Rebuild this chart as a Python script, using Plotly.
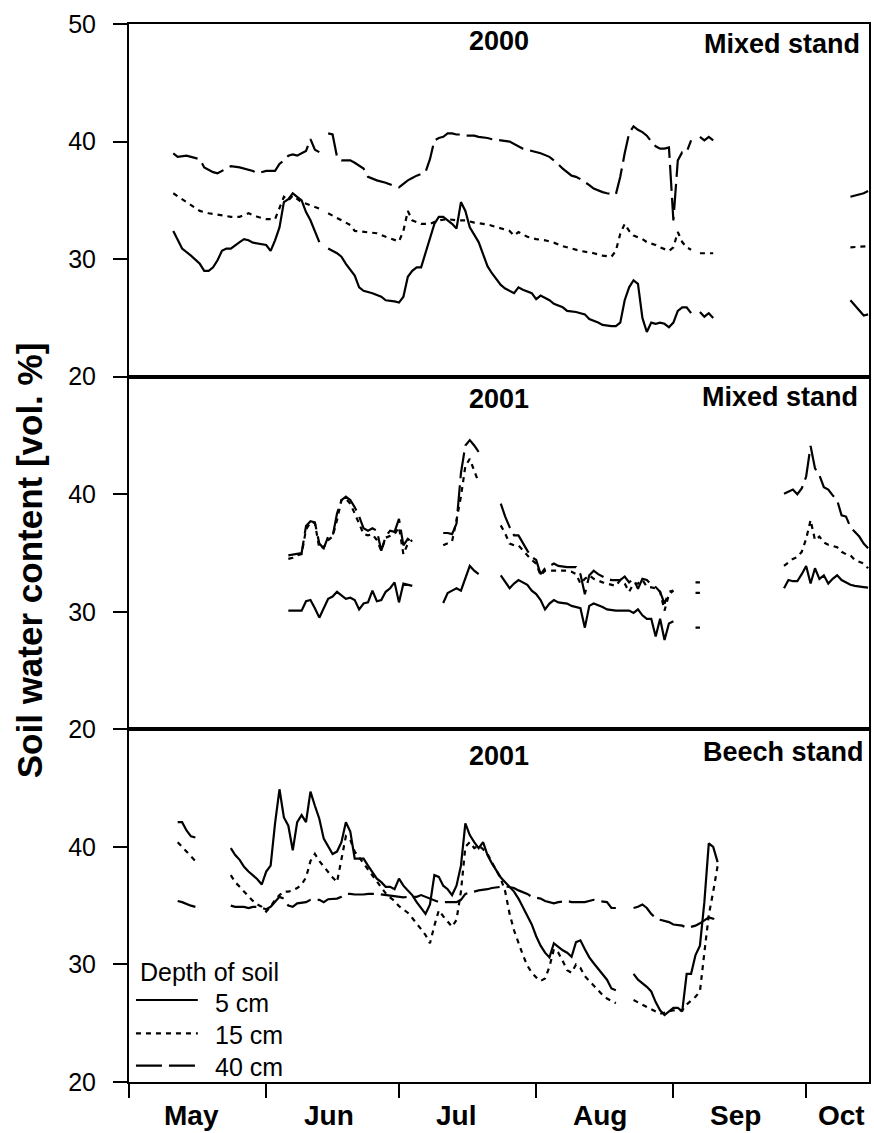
import plotly.graph_objects as go
from plotly.subplots import make_subplots

# x = days counted from 1 May (0 = 1 May); None = gap in the record
# ---------- Panel 1: 2000, mixed stand ----------
mix2000_5cm = [(10,32.4),(11,31.6),(12,30.9),(14,30.3),(16,29.6),(17,29.0),(18,29.0),(19,29.3),(20,29.9),(21,30.7),(22,30.9),(23,30.9),(24,31.2),(25,31.45),(26,31.7),(27,31.6),(28,31.4),(30,31.3),(31,31.2),(32,30.7),(33,31.6),(34,32.7),(35,34.85),(36,35.1),(37,35.6),(39,35.0),(40,34.0),(41,33.3),(42,32.4),(43,31.45),(44,None),(45,30.9),(47,30.5),(48,30.2),(49,29.6),(51,28.6),(52,27.6),(53,27.3),(55,27.1),(57,26.8),(58,26.5),(60,26.4),(61,26.3),(62,26.8),(63,28.5),(64,29.0),(65,29.3),(66,29.3),(67,30.5),(68,31.9),(69,33.0),(70,33.6),(71,33.6),(72,33.3),(73,33.0),(74,32.6),(75,34.85),(76,34.1),(77,32.7),(79,31.45),(80,30.5),(81,29.4),(82,28.8),(84,27.8),(85,27.5),(87,27.1),(88,27.6),(89,27.4),(91,27.1),(92,26.6),(93,26.9),(95,26.5),(96,26.2),(98,25.9),(99,25.6),(101,25.5),(103,25.3),(104,24.9),(106,24.6),(107,24.4),(109,24.3),(110,24.3),(111,24.6),(112,26.5),(113,27.6),(114,28.2),(115,27.9),(116,25.0),(117,23.8),(118,24.6),(119,24.5),(120,24.6),(121,24.5),(122,24.2),(123,24.6),(124,25.6),(125,25.9),(126,25.9),(127,25.4),(128,None),(129,25.5),(130,25.1),(131,25.4),(132,25.0),(133,None),(163,26.5),(165,25.6),(166,25.2),(167,25.3)]
mix2000_15cm = [(10,35.6),(12,35.1),(14,34.6),(16,34.1),(18,33.9),(21,33.7),(23,33.6),(25,33.6),(27,33.9),(29,33.6),(31,33.4),(33,33.4),(34,34.4),(35,35.3),(36,35.0),(37,35.4),(39,34.85),(41,34.6),(43,34.3),(44,None),(45,33.9),(48,33.3),(50,32.9),(51,32.4),(54,32.3),(56,32.2),(58,31.9),(60,31.6),(61,31.5),(62,32.4),(63,34.1),(64,33.3),(66,33.0),(68,33.0),(70,33.3),(72,33.4),(74,33.3),(76,33.3),(78,33.1),(81,32.95),(84,32.6),(86,32.4),(87,32.0),(88,32.3),(90,31.9),(92,31.7),(94,31.6),(96,31.4),(98,31.1),(100,30.9),(102,30.7),(105,30.5),(107,30.3),(109,30.2),(110,30.7),(111,32.15),(112,33.0),(113,32.4),(114,32.0),(116,31.7),(117,31.45),(119,31.2),(120,31.0),(122,30.7),(123,31.0),(124,32.3),(125,31.45),(126,31.0),(127,30.8),(128,None),(129,30.5),(132,30.5),(133,None),(163,31.0),(167,31.1)]
mix2000_40cm = [(10,39.0),(11,38.7),(13,38.8),(14,38.7),(16,38.5),(17,37.8),(19,37.4),(20,37.3),(21,37.5),(22,37.7),(23,37.9),(25,37.8),(26,37.7),(28,37.5),(29,37.3),(31,37.5),(33,37.5),(34,38.1),(35,38.4),(36,38.8),(37,38.9),(38,38.8),(39,39.0),(40,39.2),(41,40.2),(42,39.3),(43,39.1),(44,None),(45,40.7),(46,40.6),(47,38.7),(48,38.4),(50,38.4),(51,38.2),(53,37.7),(54,37.0),(56,36.7),(57,36.6),(58,36.5),(60,36.2),(61,36.1),(62,36.4),(63,36.7),(64,36.9),(65,37.1),(67,37.4),(68,38.5),(69,40.1),(70,40.3),(71,40.4),(72,40.7),(73,40.7),(74,40.6),(75,40.6),(76,40.5),(78,40.5),(79,40.4),(81,40.3),(82,40.2),(84,40.1),(86,40.0),(89,39.4),(91,39.2),(93,39.0),(95,38.7),(96,38.4),(98,37.7),(100,37.1),(101,37.0),(102,36.8),(104,36.3),(105,36.0),(107,35.7),(108,35.6),(110,35.5),(111,37.0),(112,39.0),(113,40.7),(114,41.3),(115,41.0),(116,40.8),(117,40.5),(118,40.0),(119,39.6),(120,39.4),(121,39.4),(122,39.5),(123,33.3),(124,38.4),(125,39.1),(126,39.1),(127,40.1),(128,None),(129,40.4),(130,40.1),(131,40.4),(132,40.1),(133,None),(163,35.3),(165,35.5),(166,35.6),(167,35.8)]

# ---------- Panel 2: 2001, mixed stand ----------
mix2001_5cm = [(36,30.1),(37,30.1),(39,30.1),(40,30.9),(41,31.0),(42,30.3),(43,29.5),(44,30.3),(45,31.1),(46,31.3),(47,31.7),(48,31.4),(49,31.1),(50,31.2),(51,31.0),(52,30.2),(53,30.7),(54,30.8),(55,31.8),(56,30.9),(57,31.0),(58,31.7),(59,32.0),(60,32.5),(61,30.8),(62,32.4),(63,32.3),(64,32.2),(67,None),(71,30.75),(72,31.6),(73,31.8),(74,32.0),(75,31.8),(77,33.9),(78,33.5),(79,33.2),(81,None),(84,33.1),(85,32.6),(86,32.0),(87,32.4),(88,32.7),(90,32.3),(91,31.8),(92,31.5),(93,31.0),(94,30.2),(95,30.7),(96,31.0),(97,30.8),(99,30.7),(100,30.5),(102,30.3),(103,28.65),(104,30.5),(105,30.7),(107,30.4),(108,30.2),(110,30.1),(111,30.1),(113,30.1),(114,29.9),(115,30.2),(116,29.7),(117,29.4),(118,29.4),(119,27.9),(120,29.4),(121,27.6),(122,29.0),(123,29.2),(125,None),(128,28.65),(129,28.65),(140,None),(148,32.0),(149,32.7),(150,32.6),(151,32.6),(152,33.2),(153,33.9),(154,32.4),(155,33.7),(156,32.8),(157,33.1),(158,32.4),(159,32.8),(160,33.1),(161,32.7),(163,32.3),(164,32.2),(166,32.1),(167,32.05)]
mix2001_15cm = [(36,34.5),(37,34.6),(38,34.8),(39,34.9),(40,37.0),(41,37.6),(42,37.55),(43,35.4),(44,35.5),(45,36.1),(46,36.4),(47,37.8),(48,39.5),(49,39.6),(50,39.2),(51,38.4),(52,37.5),(53,36.6),(54,36.5),(55,36.6),(56,36.1),(57,35.2),(58,36.3),(60,36.6),(61,37.2),(62,34.9),(63,35.8),(64,36.1),(67,None),(71,35.65),(72,35.8),(73,36.0),(74,37.8),(75,39.8),(76,42.4),(77,43.0),(78,42.0),(79,41.0),(81,None),(84,37.35),(85,36.65),(86,35.8),(87,35.65),(88,35.65),(89,35.2),(90,34.8),(91,34.4),(92,34.1),(93,33.1),(94,33.5),(96,33.5),(97,33.45),(99,33.5),(100,33.4),(101,33.2),(102,32.4),(103,32.8),(104,33.1),(105,32.8),(107,32.5),(108,32.4),(110,32.2),(111,32.7),(112,32.4),(113,31.7),(114,32.4),(115,32.4),(116,32.7),(117,32.15),(119,32.0),(120,31.7),(121,30.1),(122,31.5),(123,31.8),(125,None),(128,31.6),(129,31.6),(140,None),(148,33.9),(149,34.2),(150,34.5),(151,34.65),(152,35.1),(153,36.2),(154,37.8),(155,36.1),(156,36.4),(157,35.9),(158,35.7),(159,35.6),(160,35.5),(161,35.1),(162,34.9),(163,34.8),(164,34.4),(166,34.1),(167,33.7)]
mix2001_40cm = [(36,34.8),(37,34.85),(38,34.9),(39,35.0),(40,37.3),(41,37.7),(42,37.6),(43,35.8),(44,35.4),(45,36.4),(46,36.4),(47,38.35),(48,39.5),(49,39.8),(50,39.5),(51,38.9),(52,38.1),(53,37.1),(54,36.9),(55,37.1),(56,36.9),(57,35.2),(58,36.4),(59,36.9),(60,36.8),(61,37.9),(62,35.65),(63,36.2),(64,35.9),(67,None),(71,36.7),(72,36.7),(73,36.6),(74,37.5),(75,41.8),(76,44.15),(77,44.6),(78,44.15),(79,43.6),(81,None),(84,39.2),(85,38.1),(86,37.2),(87,36.5),(88,36.5),(89,35.8),(90,35.2),(91,34.65),(92,34.4),(93,33.2),(94,33.7),(96,34.1),(97,33.9),(99,33.8),(100,33.8),(101,33.8),(102,33.2),(103,31.5),(104,33.1),(105,33.5),(106,33.2),(108,32.8),(109,32.7),(111,32.7),(112,33.0),(113,32.5),(114,32.8),(115,31.95),(116,32.8),(117,32.7),(118,32.3),(119,32.1),(120,31.7),(121,30.7),(122,31.7),(123,31.8),(125,None),(128,32.5),(129,32.5),(140,None),(148,40.05),(149,40.2),(150,40.4),(151,40.0),(152,40.5),(153,41.5),(154,44.1),(155,42.2),(156,41.6),(157,40.6),(158,40.4),(159,39.9),(160,39.5),(161,38.2),(162,38.1),(163,37.2),(165,36.4),(166,35.8),(167,35.4)]

# ---------- Panel 3: 2001, beech stand ----------
beech2001_5cm = [(11,42.1),(12,42.1),(13,41.4),(14,40.9),(15,40.8),(18,None),(23,39.9),(24,39.3),(25,38.9),(26,38.3),(27,37.9),(28,37.6),(29,37.25),(30,36.8),(31,37.9),(32,38.4),(33,42.0),(34,44.9),(35,42.5),(36,41.8),(37,39.7),(38,42.1),(39,42.7),(40,42.1),(41,44.7),(42,43.5),(43,42.4),(44,40.7),(45,40.1),(46,39.4),(47,39.6),(48,40.4),(49,42.1),(50,41.3),(51,39.0),(52,39.0),(53,39.0),(54,38.4),(55,37.8),(56,37.3),(57,37.0),(58,36.6),(59,36.6),(60,36.4),(61,37.3),(62,36.7),(63,36.3),(64,35.9),(65,35.3),(66,34.8),(67,34.3),(68,35.1),(69,37.6),(70,37.45),(71,36.7),(72,36.4),(73,35.9),(74,36.7),(75,38.4),(76,42.0),(77,41.0),(78,40.4),(79,39.9),(80,40.4),(81,39.3),(82,38.6),(83,38.0),(84,37.4),(85,37.0),(86,36.6),(87,36.2),(88,35.6),(89,34.9),(90,34.2),(91,33.4),(92,32.4),(93,31.6),(94,31.0),(95,30.6),(96,31.8),(97,31.5),(98,31.2),(99,31.0),(100,30.65),(101,31.9),(102,32.05),(103,31.3),(104,30.6),(105,30.1),(106,29.6),(107,29.2),(108,28.7),(109,27.96),(110,27.8),(112,None),(114,29.2),(115,28.7),(117,28.1),(118,27.7),(119,26.8),(120,26.1),(121,25.7),(122,26.0),(123,26.3),(124,26.3),(125,26.0),(126,29.2),(127,29.2),(128,30.8),(129,31.6),(130,35.3),(131,40.3),(132,40.0),(133,38.7)]
beech2001_15cm = [(11,40.4),(12,40.0),(13,39.6),(14,39.15),(15,38.8),(18,None),(23,37.6),(24,37.0),(25,36.6),(26,36.2),(27,35.8),(28,35.4),(29,35.1),(30,34.9),(31,34.5),(32,34.9),(33,35.5),(34,35.9),(35,36.2),(36,36.2),(37,36.3),(38,36.5),(39,36.8),(40,37.4),(41,38.8),(42,39.4),(43,38.8),(44,38.3),(45,37.8),(46,37.4),(47,37.0),(48,39.0),(49,40.9),(50,40.6),(51,39.6),(52,39.1),(53,38.6),(54,38.1),(55,37.5),(56,37.0),(57,36.5),(58,36.05),(59,35.7),(60,35.4),(61,34.95),(62,34.7),(63,34.4),(64,33.95),(65,33.5),(66,33.0),(67,32.5),(68,31.8),(69,33.3),(70,34.6),(71,34.1),(72,33.6),(73,33.2),(74,33.8),(75,36.2),(76,40.0),(77,40.4),(78,39.9),(79,40.1),(80,39.8),(81,39.4),(82,38.7),(83,38.0),(84,37.3),(85,36.2),(86,34.3),(87,32.9),(88,31.8),(89,30.8),(90,29.9),(91,29.3),(92,28.9),(93,28.6),(94,28.8),(95,29.8),(96,31.3),(97,31.0),(98,30.3),(99,29.5),(100,29.3),(101,30.0),(102,29.7),(103,29.0),(104,28.6),(105,28.2),(107,27.4),(108,27.1),(110,26.7),(112,None),(114,26.97),(116,26.6),(117,26.4),(119,26.0),(120,25.8),(122,26.0),(123,26.1),(125,26.1),(126,26.6),(128,27.25),(129,27.7),(130,31.0),(131,34.2),(132,36.2),(133,38.4)]
beech2001_40cm = [(11,35.4),(12,35.3),(14,35.0),(15,34.9),(18,None),(23,35.0),(24,34.9),(26,34.9),(27,34.8),(28,34.9),(29,34.9),(30,34.8),(31,34.7),(32,34.9),(33,35.3),(34,35.75),(35,35.6),(36,35.0),(37,34.9),(38,35.2),(40,35.3),(41,35.5),(43,35.5),(44,35.3),(45,35.55),(47,35.6),(48,35.75),(49,36.0),(50,36.0),(51,35.95),(53,35.95),(54,36.0),(56,36.0),(57,35.95),(59,35.9),(60,35.8),(62,35.7),(63,35.75),(65,35.75),(66,35.9),(67,35.75),(69,35.5),(70,35.3),(71,35.3),(72,35.3),(74,35.3),(75,35.5),(76,36.0),(78,36.2),(79,36.3),(81,36.4),(82,36.5),(84,36.6),(85,36.65),(87,36.5),(88,36.3),(90,36.0),(91,35.75),(93,35.6),(94,35.4),(96,35.2),(97,35.3),(99,35.4),(100,35.3),(102,35.3),(103,35.3),(105,35.5),(106,35.4),(108,35.3),(109,34.8),(110,34.8),(112,None),(114,34.8),(115,34.9),(116,35.1),(117,34.8),(118,34.3),(119,33.95),(120,33.8),(122,33.6),(123,33.4),(125,33.3),(126,33.1),(128,33.3),(129,33.5),(131,34.0),(132,33.9),(133,33.4)]

# axis / labels
month_names = ["May", "Jun", "Jul", "Aug", "Sep", "Oct"]
month_starts = [0, 31, 61, 92, 123, 153]
x_end = 167.2
depth_labels = ["5 cm", "15 cm", "40 cm"]
panel_years = ["2000", "2001", "2001"]
panel_stands = ["Mixed stand", "Mixed stand", "Beech stand"]
y_ticks = [[20, 30, 40, 50], [20, 30, 40], [20, 30, 40]]
y_title = "Soil water content [vol. %]"

FONT = "Liberation Sans, Arial, Helvetica, sans-serif"
dashes = ["solid", "5px,5px", "26px,7px"]
LW = 2.2
AXW = 2

panels = [
    [mix2000_5cm, mix2000_15cm, mix2000_40cm],
    [mix2001_5cm, mix2001_15cm, mix2001_40cm],
    [beech2001_5cm, beech2001_15cm, beech2001_40cm],
]

fig = make_subplots(rows=3, cols=1, shared_xaxes=True, vertical_spacing=0)

for r, series in enumerate(panels, start=1):
    for k, s in enumerate(series):
        xs = [p[0] for p in s]
        ys = [p[1] for p in s]
        fig.add_trace(go.Scatter(
            x=xs, y=ys, mode="lines", connectgaps=False,
            line=dict(color="black", width=LW, dash=dashes[k]),
            showlegend=False, hoverinfo="skip"), row=r, col=1)

for r in range(1, 4):
    fig.update_xaxes(
        row=r, col=1, range=[0, x_end], showgrid=False, zeroline=False,
        showline=True, linecolor="black", linewidth=AXW, mirror=True,
        tickvals=month_starts, showticklabels=False,
        ticks="outside" if r == 3 else "", ticklen=14, tickwidth=2, tickcolor="black")
    fig.update_yaxes(
        row=r, col=1, range=[20, 50], showgrid=False, zeroline=False,
        showline=True, linecolor="black", linewidth=AXW, mirror=True,
        tickvals=y_ticks[r - 1], ticks="outside", ticklen=14, tickwidth=2,
        tickcolor="black", ticklabelstandoff=12,
        tickfont=dict(family=FONT, size=25, color="black"))

ann = []
# month labels
month_label_pos = [14.2, 45.2, 73.8, 106.4, 137.0, 161.0]
for name, xp in zip(month_names, month_label_pos):
    ann.append(dict(x=xp, y=-0.0315, xref="x3", yref="paper", text=name,
                    showarrow=False, xanchor="center", yanchor="middle",
                    font=dict(family=FONT, size=28, color="black", weight="bold")))

# y-axis title
ann.append(dict(x=-0.1334, y=0.4934, xref="paper", yref="paper", text=y_title,
                textangle=-90, showarrow=False, xanchor="center", yanchor="middle",
                font=dict(family=FONT, size=35, color="black", weight="bold")))

# panel titles
year_y = [0.951, 0.937, 0.925]
stand_y = [0.943, 0.942, 0.937]
stand_x = [0.990, 0.988, 0.996]
ydoms = ["y domain", "y2 domain", "y3 domain"]
for i in range(3):
    ann.append(dict(x=0.5, y=year_y[i], xref="x domain", yref=ydoms[i], text=panel_years[i],
                    showarrow=False, xanchor="center", yanchor="middle",
                    font=dict(family=FONT, size=27, color="black", weight="bold")))
    ann.append(dict(x=stand_x[i], y=stand_y[i], xref="x domain", yref=ydoms[i], text=panel_stands[i],
                    showarrow=False, xanchor="right", yanchor="middle",
                    font=dict(family=FONT, size=27, color="black", weight="bold")))

# manual legend
ann.append(dict(x=0.0121, y=0.1035, xref="paper", yref="paper", text="Depth of soil",
                showarrow=False, xanchor="left", yanchor="middle",
                font=dict(family=FONT, size=25, color="black")))
leg_text_y = [0.0748, 0.0440, 0.0140]
leg_line_y = [0.0775, 0.0460, 0.0154]
shapes = []
for i in range(3):
    ann.append(dict(x=0.1132, y=leg_text_y[i], xref="paper", yref="paper", text=depth_labels[i],
                    showarrow=False, xanchor="left", yanchor="middle",
                    font=dict(family=FONT, size=25, color="black")))
    shapes.append(dict(type="line", xref="paper", yref="paper",
                       x0=0.0094, x1=0.0930, y0=leg_line_y[i], y1=leg_line_y[i],
                       line=dict(color="black", width=LW, dash=dashes[i])))

fig.update_layout(
    width=874, height=1133,
    margin=dict(l=129, r=3, t=24, b=51),
    plot_bgcolor="white", paper_bgcolor="white",
    annotations=ann, shapes=shapes, showlegend=False,
)

fig.write_html("out.html")
